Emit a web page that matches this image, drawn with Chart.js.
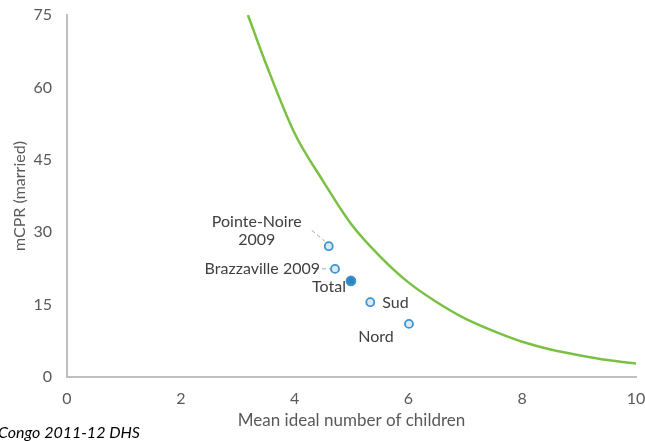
<!DOCTYPE html>
<html>
<head>
<meta charset="utf-8">
<script src="https://cdn.jsdelivr.net/npm/chart.js@4"></script>
<style>
  body { margin: 0; background: #fff; }
  #wrap { width: 645px; height: 441px; }
</style>
</head>
<body>
<div id="wrap"><canvas id="chart" width="645" height="441"></canvas></div>
<script>
  // Curve: mCPR vs mean ideal number of children
  const curveX = [3.18, 3.5, 4, 4.5, 5, 5.5, 6, 6.5, 7, 7.5, 8, 8.5, 9, 9.5, 10];
  const curveY = [75, 64.8, 50.5, 40.6, 31.6, 25, 19.6, 15.5, 12.1, 9.5, 7.3, 5.7, 4.5, 3.5, 2.8];

  // Survey points
  const pointLabels = ['Pointe-Noire 2009', 'Brazzaville 2009', 'Total', 'Sud', 'Nord'];
  const idealX = [4.6, 4.71, 4.99, 5.33, 6.01];
  const mcprY = [27.1, 22.4, 19.9, 15.5, 11.0];

  const xTicks = [0, 2, 4, 6, 8, 10];
  const yTicks = [0, 15, 30, 45, 60, 75];

  const FONT = 'Lato, "Noto Sans", sans-serif';
  const textGray = '#595959';

  // label placement relative to each point
  const labelStyle = [
    { lines: ['Pointe-Noire', '2009'], dx: -72, dy: -24, align: 'center', leader: [-17, -16, -4, -5] },
    { lines: ['Brazzaville 2009'], dx: -15, dy: 0, align: 'right', leader: [-13, 0, -5, 0] },
    { lines: ['Total'], dx: -5, dy: 6, align: 'right' },
    { lines: ['Sud'], dx: 12, dy: 1, align: 'left' },
    { lines: ['Nord'], dx: -33, dy: 13, align: 'center' }
  ];

  const pointLabelPlugin = {
    id: 'pointLabels',
    afterDatasetsDraw(chart) {
      const ctx = chart.ctx;
      const meta = chart.getDatasetMeta(1);
      ctx.save();
      ctx.font = '16px ' + FONT;
      ctx.fillStyle = '#404040';
      ctx.textBaseline = 'middle';
      meta.data.forEach((pt, i) => {
        const s = labelStyle[i];
        if (s.leader) {
          ctx.save();
          ctx.strokeStyle = '#a6a6a6';
          ctx.lineWidth = 1;
          ctx.setLineDash([4, 3]);
          ctx.beginPath();
          ctx.moveTo(pt.x + s.leader[0], pt.y + s.leader[1]);
          ctx.lineTo(pt.x + s.leader[2], pt.y + s.leader[3]);
          ctx.stroke();
          ctx.restore();
        }
        ctx.textAlign = s.align;
        s.lines.forEach((line, j) => {
          ctx.fillText(line, pt.x + s.dx, pt.y + s.dy + j * 18);
        });
      });
      ctx.restore();
    }
  };

  const sourcePlugin = {
    id: 'sourceNote',
    afterDraw(chart) {
      const ctx = chart.ctx;
      ctx.save();
      ctx.font = 'italic 16px ' + FONT;
      ctx.fillStyle = '#000';
      ctx.textAlign = 'left';
      ctx.textBaseline = 'middle';
      ctx.fillText('Congo 2011-12 DHS', -2, 433);
      ctx.restore();
    }
  };

  new Chart(document.getElementById('chart'), {
    type: 'scatter',
    data: {
      datasets: [
        {
          type: 'line',
          data: curveX.map((x, i) => ({ x: x, y: curveY[i] })),
          borderColor: '#7ac143',
          borderWidth: 2.5,
          pointRadius: 0,
          cubicInterpolationMode: 'monotone',
          fill: false
        },
        {
          data: idealX.map((x, i) => ({ x: x, y: mcprY[i] })),
          pointRadius: [4, 4, 4.5, 4, 4],
          pointBackgroundColor: pointLabels.map(l => l === 'Total' ? '#2e86c1' : '#dbeaf5'),
          pointBorderColor: '#3d94d1',
          pointBorderWidth: 1.8
        }
      ]
    },
    options: {
      responsive: false,
      animation: false,
      layout: { padding: { top: 15, right: 9, left: 0, bottom: 0 } },
      plugins: {
        legend: { display: false },
        tooltip: { enabled: false }
      },
      scales: {
        x: {
          type: 'linear',
          min: 0,
          max: 10,
          afterBuildTicks: s => { s.ticks = xTicks.map(v => ({ value: v })); },
          afterFit: s => { s.height = 64; s.paddingLeft = 0; s.paddingRight = 0; },
          grid: { display: true, drawOnChartArea: false, drawTicks: false },
          border: { display: true, color: '#bfbfbf', width: 2 },
          ticks: { padding: 12, color: textGray, font: { family: FONT, size: 16 } },
          title: {
            display: true,
            text: 'Mean ideal number of children',
            color: textGray,
            font: { family: FONT, size: 17 },
            padding: { top: 0, bottom: 10 }
          }
        },
        y: {
          min: 0,
          max: 75,
          afterBuildTicks: s => { s.ticks = yTicks.map(v => ({ value: v })); },
          afterFit: s => { s.width = 67; s.paddingTop = 0; s.paddingBottom = 0; },
          grid: { display: true, drawOnChartArea: false, drawTicks: false },
          border: { display: true, color: '#bfbfbf', width: 2 },
          ticks: { padding: 15, color: textGray, font: { family: FONT, size: 16 } },
          title: {
            display: true,
            text: 'mCPR (married)',
            color: textGray,
            font: { family: FONT, size: 16 },
            padding: { top: 10, bottom: 0 }
          }
        }
      }
    },
    plugins: [pointLabelPlugin, sourcePlugin]
  });
</script>
</body>
</html>
